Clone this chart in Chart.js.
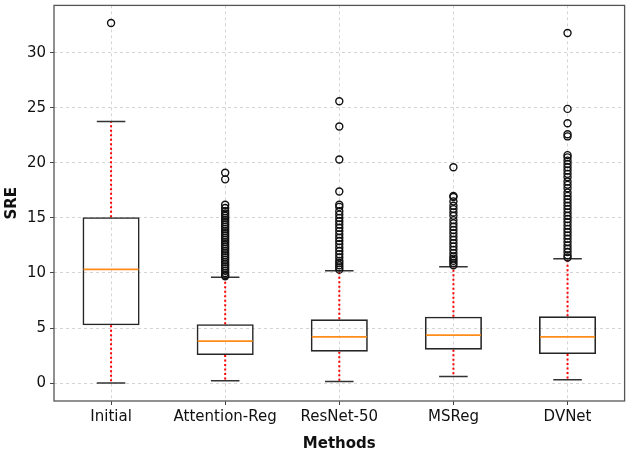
<!DOCTYPE html>
<html>
<head>
<meta charset="utf-8">
<script src="https://cdn.jsdelivr.net/npm/chart.js@4.4.1/dist/chart.umd.min.js"></script>
<style>
  html, body { margin: 0; padding: 0; background: #fff; }
  #wrap { width: 630px; height: 453px; }
</style>
</head>
<body>
<div id="wrap"><canvas id="chart"></canvas></div>
<script>
// --- Data ---
const methods = ['Initial', 'Attention-Reg', 'ResNet-50', 'MSReg', 'DVNet'];
const q1 = [5.25, 2.55, 2.85, 3.03, 2.64];
const q3 = [15.07, 5.34, 5.79, 6.03, 6.06];
const medians = [10.32, 3.81, 4.2, 4.35, 4.2];
const whiskerLow = [0, 0.21, 0.15, 0.6, 0.3];
const whiskerHigh = [23.75, 9.6, 10.2, 10.57, 11.3];
const yTicks = [0, 5, 10, 15, 20, 25, 30];

const outInitial = [32.7];
const outAttention = [19.1, 18.5, 16.2, 15.9, 15.6, 15.4, 15.2, 15.0, 14.8, 14.6, 14.4, 14.2, 14.0, 13.8,
  13.6, 13.4, 13.2, 13.0, 12.8, 12.6, 12.4, 12.2, 12.0, 11.8, 11.6, 11.4, 11.2, 11.0, 10.8, 10.6,
  10.4, 10.2, 10.0, 9.8, 9.7];
const outResNet = [25.6, 23.3, 20.3, 17.4, 16.2, 16.0, 15.6, 15.3, 15.0, 14.7, 14.4, 14.1, 13.8, 13.5,
  13.2, 12.9, 12.6, 12.3, 12.0, 11.7, 11.4, 11.1, 10.9, 10.7, 10.5, 10.3];
const outMSReg = [19.6, 17.0, 16.9, 16.5, 16.1, 15.8, 15.5, 15.2, 14.8, 14.5, 14.2, 13.9, 13.6, 13.3,
  13.0, 12.7, 12.4, 12.1, 11.8, 11.5, 11.3, 11.1, 10.9, 10.7];
const outDVNet = [31.8, 24.9, 23.6, 22.6, 22.4, 20.7, 20.5, 20.2, 19.9, 19.6, 19.3, 19.0, 18.7, 18.3,
  18.0, 17.7, 17.3, 17.0, 16.7, 16.4, 16.1, 15.8, 15.5, 15.2, 14.9, 14.6, 14.3, 14.0, 13.7, 13.4,
  13.1, 12.8, 12.5, 12.2, 11.9, 11.6, 11.4];
const outliers = [outInitial, outAttention, outResNet, outMSReg, outDVNet];

const FONT = "'DejaVu Sans', sans-serif";

// flatten outliers into scatter points on the category axis
const outlierPoints = [];
outliers.forEach((list, i) => {
  list.forEach(v => outlierPoints.push({ x: methods[i], y: v }));
});

// whiskers, caps and medians drawn through the chart's scales
const boxExtras = {
  id: 'boxExtras',
  beforeDatasetsDraw(chart) {
    const { ctx, scales: { x, y } } = chart;
    const half = (x.getPixelForValue(1) - x.getPixelForValue(0)) * 0.125;
    ctx.save();
    methods.forEach((m, i) => {
      const cx = x.getPixelForValue(i);
      // whiskers
      ctx.strokeStyle = '#ff0000';
      ctx.lineWidth = 2;
      ctx.setLineDash([2, 2.5]);
      ctx.beginPath();
      ctx.moveTo(cx, y.getPixelForValue(q1[i]));
      ctx.lineTo(cx, y.getPixelForValue(whiskerLow[i]));
      ctx.moveTo(cx, y.getPixelForValue(q3[i]));
      ctx.lineTo(cx, y.getPixelForValue(whiskerHigh[i]));
      ctx.stroke();
      // caps
      ctx.setLineDash([]);
      ctx.strokeStyle = '#333';
      ctx.lineWidth = 1.5;
      ctx.beginPath();
      [whiskerLow[i], whiskerHigh[i]].forEach(v => {
        const py = y.getPixelForValue(v);
        ctx.moveTo(cx - half, py);
        ctx.lineTo(cx + half, py);
      });
      ctx.stroke();
    });
    ctx.restore();
  },
  afterDatasetsDraw(chart) {
    const { ctx, scales: { x, y } } = chart;
    const half = (x.getPixelForValue(1) - x.getPixelForValue(0)) * 0.25;
    ctx.save();
    ctx.strokeStyle = '#ff8c1a';
    ctx.lineWidth = 1.8;
    methods.forEach((m, i) => {
      const cx = x.getPixelForValue(i);
      const py = y.getPixelForValue(medians[i]);
      ctx.beginPath();
      ctx.moveTo(cx - half + 1, py);
      ctx.lineTo(cx + half - 1, py);
      ctx.stroke();
    });
    // axes frame
    const a = chart.chartArea;
    ctx.strokeStyle = '#555';
    ctx.lineWidth = 1.3;
    ctx.strokeRect(a.left, a.top, a.right - a.left, a.bottom - a.top);
    ctx.restore();
  }
};

const ctx = document.getElementById('chart').getContext('2d');
new Chart(ctx, {
  type: 'bar',
  data: {
    labels: methods,
    datasets: [
      {
        type: 'bar',
        data: methods.map((m, i) => [q1[i], q3[i]]),
        backgroundColor: 'rgba(0,0,0,0)',
        borderColor: '#262626',
        borderWidth: 1.6,
        borderSkipped: false,
        categoryPercentage: 1,
        barPercentage: 0.5,
        order: 2
      },
      {
        type: 'scatter',
        data: outlierPoints,
        pointStyle: 'circle',
        pointRadius: 3.5,
        pointBackgroundColor: 'rgba(0,0,0,0)',
        pointBorderColor: '#111',
        pointBorderWidth: 1.4,
        order: 1
      }
    ]
  },
  options: {
    responsive: true,
    maintainAspectRatio: false,
    animation: false,
    layout: { padding: { top: -3, right: 3, left: 0, bottom: 0 } },
    plugins: { legend: { display: false }, tooltip: { enabled: false } },
    scales: {
      x: {
        type: 'category',
        offset: true,
        border: { display: false, dash: [3, 3] },
        grid: {
          offset: false,
          color: '#d4d4d4',
          lineWidth: 1,
          drawTicks: true,
          tickLength: 4,
          tickColor: '#444',
          tickBorderDash: [],
          tickWidth: 1
        },
        ticks: { color: '#111', font: { family: FONT, size: 15 }, padding: 3, maxRotation: 0 },
        title: {
          display: true,
          text: 'Methods',
          color: '#111',
          font: { family: FONT, size: 15, weight: 'bold' },
          padding: { top: 0, bottom: 0 }
        },
        afterFit(axis) { axis.height = 52; axis.paddingLeft = 0; axis.paddingRight = 0; }
      },
      y: {
        min: -1.63,
        max: 34.3,
        border: { display: false, dash: [3, 3] },
        grid: {
          color: '#d4d4d4',
          lineWidth: 1,
          drawTicks: true,
          tickLength: 4,
          tickColor: '#444',
          tickBorderDash: [],
          tickWidth: 1
        },
        ticks: { color: '#111', font: { family: FONT, size: 15 }, padding: 4 },
        afterBuildTicks(axis) { axis.ticks = yTicks.map(v => ({ value: v })); },
        title: {
          display: true,
          text: 'SRE',
          color: '#111',
          font: { family: FONT, size: 15, weight: 'bold' },
          padding: { top: 3, bottom: 0 }
        },
        afterFit(axis) { axis.width = 54; axis.paddingTop = 0; axis.paddingBottom = 0; }
      }
    }
  },
  plugins: [boxExtras]
});
</script>
</body>
</html>
